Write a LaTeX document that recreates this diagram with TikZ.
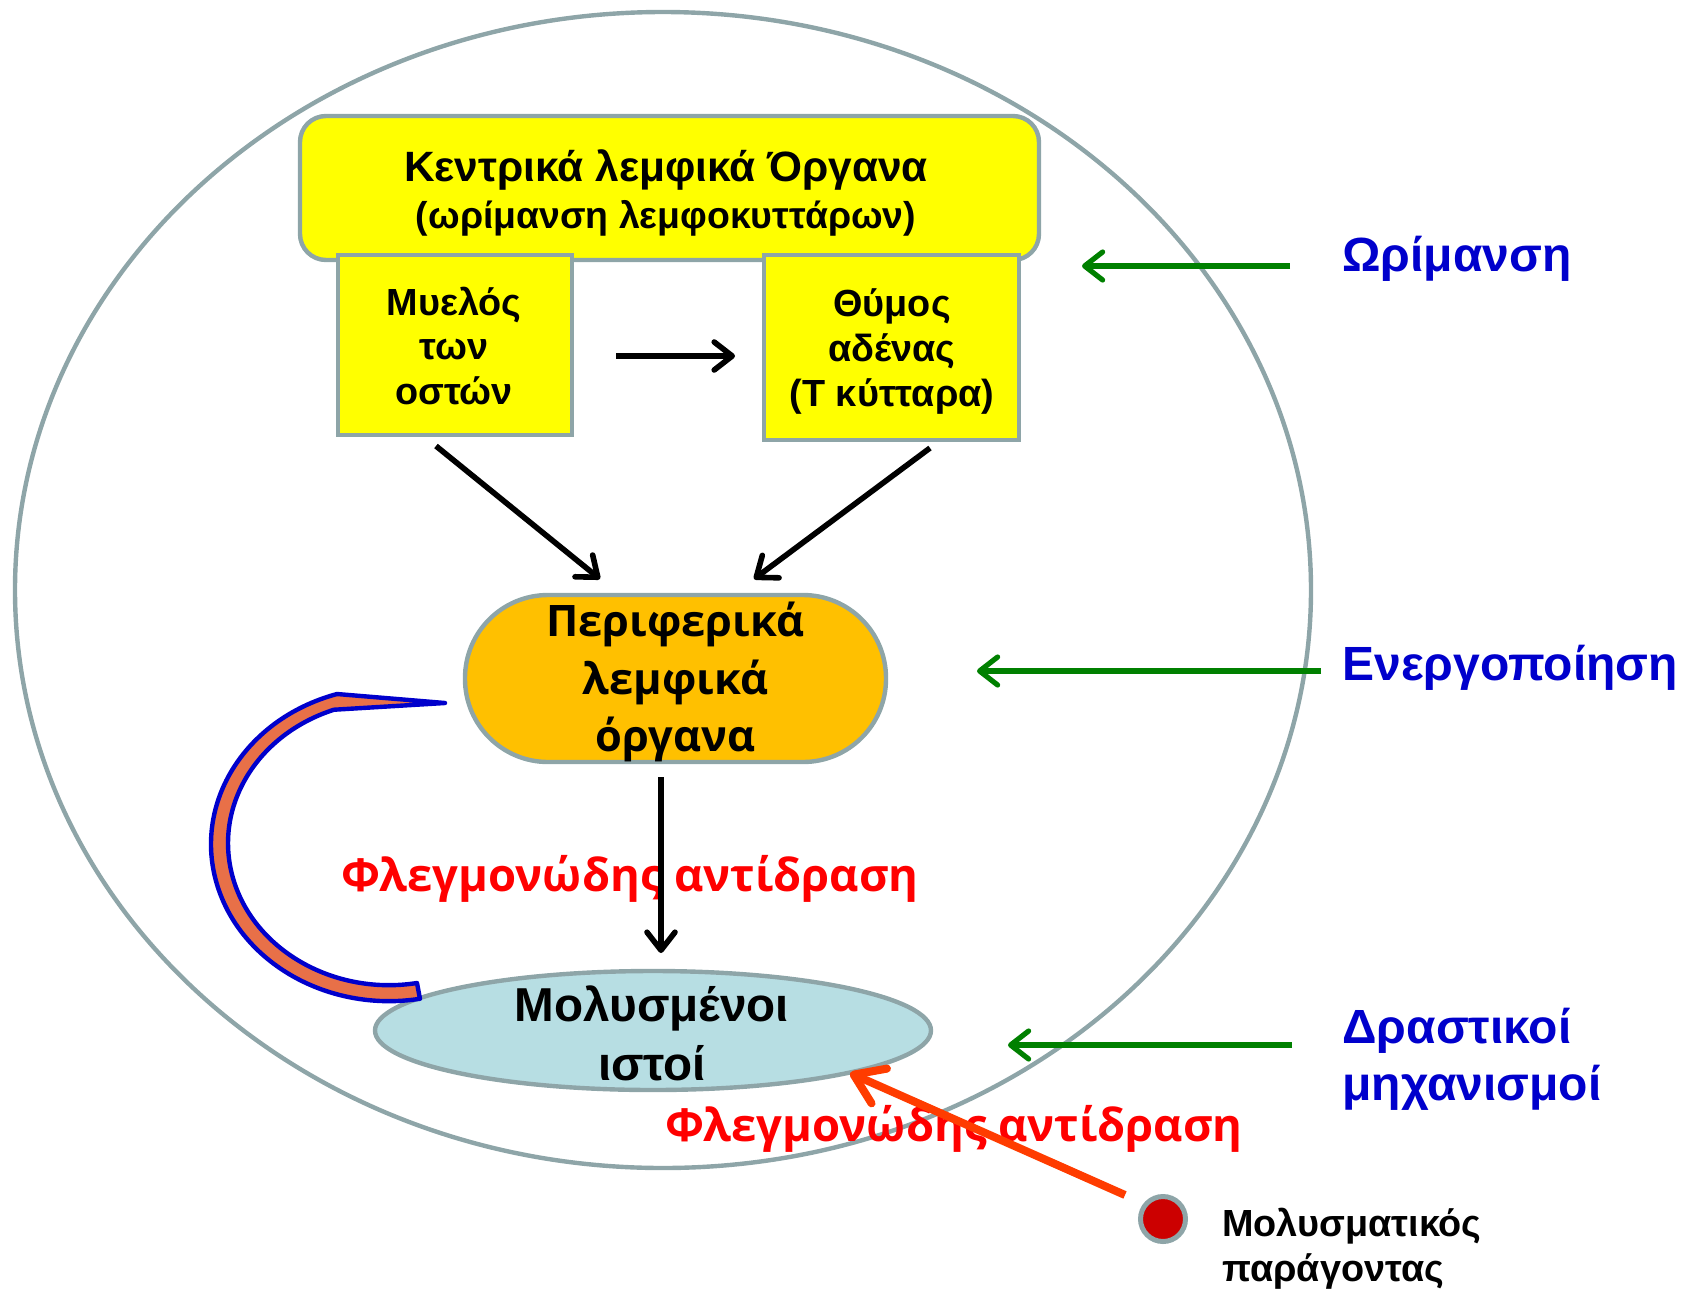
\documentclass[tikz,border=0pt]{standalone}
\usepackage{fontspec}
\setmainfont{Liberation Sans}
\newfontfamily\roundfont{Open Sans}
\usetikzlibrary{arrows.meta,shapes.geometric}
\definecolor{rim}{RGB}{142,165,168}
\definecolor{lemon}{RGB}{255,255,0}
\definecolor{amber}{RGB}{255,192,0}
\definecolor{tissueblue}{RGB}{183,222,227}
\definecolor{bandfill}{RGB}{232,112,72}
\definecolor{bandedge}{RGB}{0,0,204}
\definecolor{phasegreen}{RGB}{0,128,0}
\definecolor{phaseblue}{RGB}{0,0,204}
\definecolor{flame}{RGB}{255,0,0}
\definecolor{agentarrow}{RGB}{255,60,0}
\definecolor{agentdot}{RGB}{204,0,0}

\begin{document}
\begin{tikzpicture}[x=0.5pt,y=-0.5pt,
  organbox/.style={draw=rim,line width=2.2pt,fill=lemon,inner sep=0pt},
  organtext/.style={inner sep=0pt,align=center,font=\bfseries\fontsize{18.9}{22.3}\selectfont},
  pointer/.style={line width=2.8pt,-{Straight Barb[length=9pt,width=14pt,round]}},
  phasearrow/.style={phasegreen,line width=2.6pt,-{Straight Barb[length=9pt,width=14pt,round]}},
  phaselabel/.style={anchor=west,inner sep=0pt,align=left,text=phaseblue,font=\bfseries\fontsize{24}{28.5}\selectfont},
  inflammation/.style={inner sep=0pt,text=flame,font=\roundfont\bfseries\fontsize{22.7}{28}\selectfont}]

\useasboundingbox (0,0) rectangle (1688,1291);

% outline of the organism
\draw[rim,line width=2.2pt] (663,590) ellipse [x radius=324pt,y radius=289pt];

% inflammation labels (under the arrows)
\node[inflammation] (inflamA) at (630,879) {Φλεγμονώδης αντίδραση};
\node[inflammation] (inflamB) at (954,1129) {Φλεγμονώδης αντίδραση};

% central lymphoid organs
\node[organbox,rounded corners=13pt,minimum width=369.5pt,minimum height=72pt] (central) at (669.5,188) {};
\node[organbox,minimum width=117pt,minimum height=90pt] (marrow) at (455,345) {};
\node[organbox,minimum width=127.5pt,minimum height=92.5pt] (thymus) at (891.5,347.5) {};
\node[inner sep=0pt,align=center] (centraltext) at (666,193)
  {\bfseries\fontsize{21.2}{24}\selectfont Κεντρικά λεμφικά Όργανα\\[4.3pt]
   \bfseries\fontsize{18.7}{24}\selectfont (ωρίμανση λεμφοκυττάρων)};
\node[organtext] (marrowtext) at (454,346) {Μυελός\\των\\οστών};
\node[organtext] (thymustext) at (892,351.5) {Θύμος\\αδένας\\(Τ κύτταρα)};

% peripheral lymphoid organs
\node[draw=rim,line width=2.2pt,fill=amber,rounded corners=41.5pt,minimum width=210.5pt,minimum height=83.5pt,inner sep=0pt] (periph) at (675.5,678.5) {};
\node[inner sep=0pt,align=center,font=\roundfont\bfseries\fontsize{21.7}{28.8}\selectfont] (periphtext) at (675.5,682) {Περιφερικά\\λεμφικά\\όργανα};

% infected tissue
\node[ellipse,draw=rim,line width=2.2pt,fill=tissueblue,minimum width=278pt,minimum height=59.5pt,inner sep=0pt] (tissue) at (653,1030.5) {};
\node[inner sep=0pt,align=center,font=\bfseries\fontsize{23.8}{29.5}\selectfont] (tissuetext) at (652,1033) {Μολυσμένοι\\ιστοί};

% feedback band from the tissue back to the peripheral organs
\filldraw[fill=bandfill,draw=bandedge,line width=2.2pt,line join=round]
  (445,703) -- (337,694) arc[start angle=253,end angle=80,x radius=178,y radius=157]
  -- (417,983) arc[start angle=80,end angle=250,x radius=161,y radius=142] -- cycle;

% black connectors
\coordinate (marrowout) at (616,356);
\coordinate (thymusin) at (735,356);
\coordinate (marrowdown) at (436,446);
\coordinate (periphinL) at (600,579);
\coordinate (thymusdown) at (930,448);
\coordinate (periphinR) at (754,579);
\coordinate (periphout) at (661,777);
\coordinate (tissuein) at (661,953);
\draw[pointer] (marrowout) -- (thymusin);
\draw[pointer] (marrowdown) -- (periphinL);
\draw[pointer] (thymusdown) -- (periphinR);
\draw[pointer] (periphout) -- (tissuein);

% phase labels with green arrows
\node[phaselabel] (maturation) at (1342,259) {Ωρίμανση};
\node[phaselabel] (activation) at (1342,668) {Ενεργοποίηση};
\node[phaselabel] (effector) at (1342,1059) {Δραστικοί\\μηχανισμοί};
\coordinate (g1s) at (1290,266); \coordinate (g1e) at (1082,266);
\coordinate (g2s) at (1321,671); \coordinate (g2e) at (977,671);
\coordinate (g3s) at (1292,1045); \coordinate (g3e) at (1008,1045);
\draw[phasearrow] (g1s) -- (g1e);
\draw[phasearrow] (g2s) -- (g2e);
\draw[phasearrow] (g3s) -- (g3e);

% infectious agent
\node[circle,draw=rim,line width=2.5pt,fill=agentdot,minimum size=22.5pt,inner sep=0pt] (agent) at (1163,1219) {};
\node[anchor=west,inner sep=0pt,align=left,font=\bfseries\fontsize{18.9}{22.5}\selectfont] (agentlabel) at (1222,1249) {Μολυσματικός\\παράγοντας};
\coordinate (agentout) at (1125,1195);
\coordinate (tissuehit) at (850,1073);
\draw[agentarrow,line width=4pt,-{Straight Barb[length=14pt,width=19pt,round]}] (agentout) -- (tissuehit);
\end{tikzpicture}
\end{document}
